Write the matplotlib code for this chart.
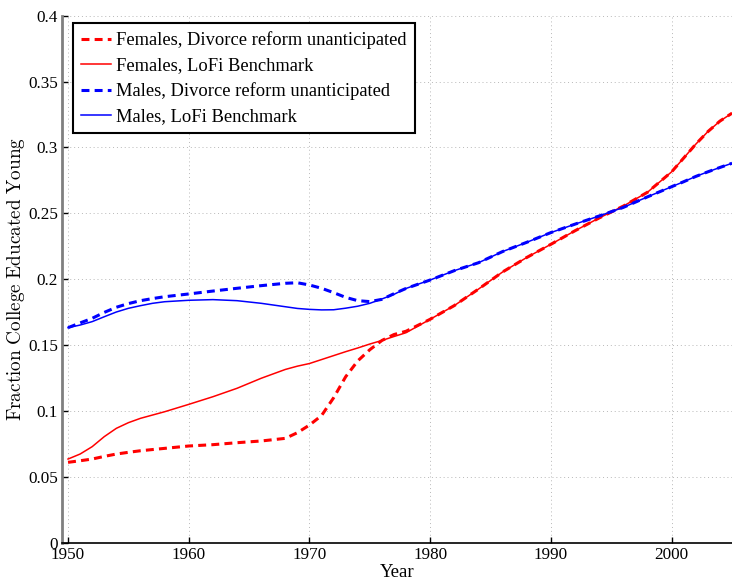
import matplotlib
matplotlib.use('Agg')
import matplotlib.pyplot as plt

# values
years = [1950, 1951, 1952, 1953, 1954, 1955, 1956, 1957, 1958, 1960, 1962, 1964,
         1966, 1968, 1969, 1970, 1971, 1972, 1973, 1974, 1975, 1976, 1977, 1978,
         1980, 1982, 1984, 1986, 1988, 1990, 1992, 1994, 1996, 1998, 2000, 2001,
         2002, 2003, 2004, 2005]

fem_unanticipated = [0.0610, 0.0622, 0.0635, 0.0655, 0.0673, 0.0686, 0.0698, 0.0707,
                     0.0716, 0.0734, 0.0744, 0.0759, 0.0772, 0.0792, 0.0835, 0.0893,
                     0.0965, 0.1100, 0.1260, 0.1380, 0.1465, 0.1535, 0.1580, 0.1605,
                     0.1696, 0.1800, 0.1925, 0.2055, 0.2165, 0.2265, 0.2368, 0.2465,
                     0.2555, 0.2660, 0.2815, 0.2920, 0.3025, 0.3120, 0.3200, 0.3260]
fem_benchmark = [0.0635, 0.0673, 0.0729, 0.0805, 0.0868, 0.0911, 0.0944, 0.0969,
                 0.0994, 0.1050, 0.1108, 0.1172, 0.1248, 0.1315, 0.1340, 0.1360,
                 0.1390, 0.1420, 0.1450, 0.1478, 0.1508, 0.1535, 0.1565, 0.1594,
                 0.1696, 0.1800, 0.1925, 0.2055, 0.2165, 0.2265, 0.2368, 0.2465,
                 0.2555, 0.2660, 0.2815, 0.2920, 0.3025, 0.3120, 0.3200, 0.3260]
male_unanticipated = [0.1632, 0.1668, 0.1703, 0.1748, 0.1787, 0.1815, 0.1837, 0.1853,
                      0.1867, 0.1888, 0.1910, 0.1931, 0.1951, 0.1969, 0.1973, 0.1956,
                      0.1931, 0.1898, 0.1862, 0.1837, 0.1830, 0.1847, 0.1890, 0.1930,
                      0.1994, 0.2065, 0.2125, 0.2210, 0.2280, 0.2354, 0.2418, 0.2480,
                      0.2545, 0.2625, 0.2702, 0.2740, 0.2780, 0.2815, 0.2848, 0.2880]
male_benchmark = [0.1632, 0.1652, 0.1678, 0.1715, 0.1751, 0.1779, 0.1799, 0.1817,
                  0.1829, 0.1840, 0.1845, 0.1837, 0.1817, 0.1791, 0.1778, 0.1771,
                  0.1767, 0.1768, 0.1780, 0.1795, 0.1817, 0.1850, 0.1885, 0.1930,
                  0.1994, 0.2065, 0.2125, 0.2210, 0.2280, 0.2354, 0.2418, 0.2480,
                  0.2545, 0.2625, 0.2702, 0.2740, 0.2780, 0.2815, 0.2848, 0.2880]

labels = ['Females, Divorce reform unanticipated', 'Females, LoFi Benchmark',
          'Males, Divorce reform unanticipated', 'Males, LoFi Benchmark']

xticks = [1950, 1960, 1970, 1980, 1990, 2000]
yticks = [0, 0.05, 0.1, 0.15, 0.2, 0.25, 0.3, 0.35, 0.4]
ytick_labels = ['0', '0.05', '0.1', '0.15', '0.2', '0.25', '0.3', '0.35', '0.4']

plt.rcParams['font.family'] = ['Liberation Serif', 'DejaVu Serif']
plt.rcParams['mathtext.fontset'] = 'cm'

fig = plt.figure(figsize=(7.32, 5.77), dpi=100)
ax = fig.add_axes([62 / 732, 34.3 / 577, 670 / 732, 527 / 577])

dash = (0, (2.6, 1.7))
ax.plot(years, fem_unanticipated, color='#ff0000', lw=2.2, ls=dash, label=labels[0])
ax.plot(years, fem_benchmark, color='#ff0000', lw=1.1, label=labels[1])
ax.plot(years, male_unanticipated, color='#0000ff', lw=2.2, ls=dash, label=labels[2])
ax.plot(years, male_benchmark, color='#0000ff', lw=1.1, label=labels[3])

ax.set_xlim(1949.5, 2005)
ax.set_ylim(0, 0.4)
ax.set_xticks(xticks)
ax.set_yticks(yticks)
ax.set_yticklabels(ytick_labels)
ax.tick_params(direction='in', length=4, width=1, labelsize=12.3, pad=3)
ax.grid(True, color='#b8b8b8', ls=(0, (1, 3)), lw=0.7)

ax.spines['top'].set_visible(False)
ax.spines['right'].set_visible(False)
ax.spines['left'].set_color('#808080')
ax.spines['left'].set_linewidth(2)
ax.spines['bottom'].set_linewidth(1.2)

ax.set_xlabel('Year', fontsize=13.5, labelpad=1)
ax.set_ylabel(r'$\mathrm{Fraction\ College\ Educated\ Young}$', fontsize=13.8, labelpad=1)

leg = ax.legend(loc='upper left', bbox_to_anchor=(0.0164, 0.986), borderaxespad=0,
                fontsize=13.3, fancybox=False, framealpha=1, edgecolor='black',
                handlelength=1.6, handletextpad=0.3, borderpad=0.45, labelspacing=0.43)
leg.get_frame().set_linewidth(1.5)

fig.savefig('out.png', dpi=100)
